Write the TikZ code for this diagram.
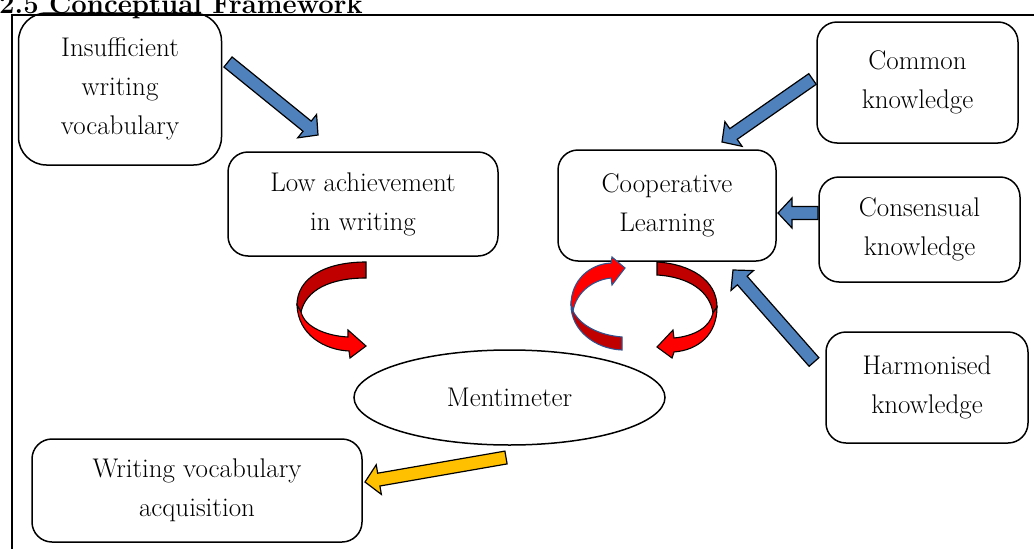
\documentclass[tikz,border=0pt]{standalone}
\usetikzlibrary{calc,shapes.geometric}

\definecolor{arrowblue}{RGB}{79,129,189}
\definecolor{arrowgold}{RGB}{255,192,0}
\definecolor{ribbonred}{RGB}{255,0,0}
\definecolor{ribbondark}{RGB}{192,0,0}
\definecolor{ribbonline}{RGB}{47,82,143}

% block arrow from tail coordinate #2 to tip coordinate #3
\newcommand{\blockarrow}[3][]{%
  \coordinate (ba-base) at ($(#3)!14pt!(#2)$);
  \draw[#1] ($(#2)!6.5pt!90:(#3)$) -- ($(ba-base)!6.5pt!90:(#3)$)
    -- ($(ba-base)!15pt!90:(#3)$) -- (#3)
    -- ($(ba-base)!15pt!-90:(#3)$) -- ($(ba-base)!6.5pt!-90:(#3)$)
    -- ($(#2)!6.5pt!-90:(#3)$) -- cycle;
}

\begin{document}
\begin{tikzpicture}
    [
    x=1pt,y=-1pt,
    box/.style={draw,rounded corners=20pt,line width=1.5pt,align=center,inner sep=0pt,
      font=\fontsize{27}{39}\selectfont},
    oval/.style={draw,ellipse,line width=1.5pt,inner sep=0pt,font=\fontsize{27}{39}\selectfont},
    bluearrow/.style={fill=arrowblue,draw=black,line width=1.2pt,line join=miter},
    goldarrow/.style={fill=arrowgold,draw=black,line width=1.2pt,line join=miter},
    ribbon/.style={draw=black,line width=1.1pt,line join=miter},
    ]
    \useasboundingbox (0,0) rectangle (1034,549);

    \node[anchor=base west,inner sep=0pt,font=\bfseries\fontsize{27.5}{30}\selectfont] (title) at (-1,13) {2.5 Conceptual Framework};
    \draw[line width=1.5pt] (12,15) rectangle (1050,570);

    % boxes
    \node[box,rounded corners=28pt,minimum width=203pt,minimum height=152pt] (insuff) at (120,89) {Insufficient\\writing\\vocabulary};
    \node[box,minimum width=270pt,minimum height=104pt] (low) at (363,204) {Low achievement\\in writing};
    \node[box,minimum width=218pt,minimum height=111pt] (coop) at (667,205.5) {Cooperative\\Learning};
    \node[box,minimum width=201pt,minimum height=121pt] (common) at (917.5,82.5) {Common\\knowledge};
    \node[box,minimum width=201pt,minimum height=105pt] (consens) at (919.5,229.5) {Consensual\\knowledge};
    \node[box,minimum width=202pt,minimum height=111pt] (harmon) at (927,387.5) {Harmonised\\knowledge};
    \node[oval,minimum width=311pt,minimum height=95pt] (menti) at (509.5,397.5) {Mentimeter};
    \node[box,minimum width=330pt,minimum height=103pt] (wva) at (197,490.5) {Writing vocabulary\\acquisition};

    % arrow ends
    \coordinate (insuff-out) at (228,62);
    \coordinate (low-in) at (318,135);
    \coordinate (common-out) at (812.5,79);
    \coordinate (coop-in1) at (722,142);
    \coordinate (consens-out) at (818,213);
    \coordinate (coop-in2) at (778,213);
    \coordinate (harmon-out) at (814,362);
    \coordinate (coop-in3) at (733,270);
    \coordinate (menti-out) at (506,457.5);
    \coordinate (wva-in) at (365,482);

    \blockarrow[bluearrow]{insuff-out}{low-in}
    \blockarrow[bluearrow]{common-out}{coop-in1}
    \blockarrow[bluearrow]{consens-out}{coop-in2}
    \blockarrow[bluearrow]{harmon-out}{coop-in3}
    \blockarrow[goldarrow]{menti-out}{wva-in}

    % curved arrow low -> menti
    \filldraw[ribbon,fill=ribbondark] (366,262) -- (366,278) .. controls (330,278) and (306,290) .. (301,312)
      -- (297,305) .. controls (297,278) and (325,262) .. (366,262) -- cycle;
    \filldraw[ribbon,fill=ribbonred] (297,305) .. controls (298,335) and (325,350) .. (349,351)
      -- (350,358) -- (366,346) -- (348,330) -- (348,337) .. controls (328,336) and (305,328) .. (301,312) -- cycle;

    % curved arrow coop -> menti
    \filldraw[ribbon,fill=ribbondark] (657,262) .. controls (690,264) and (717,280) .. (717,307)
      -- (713,313) .. controls (710,292) and (690,277) .. (657,275) -- cycle;
    \filldraw[ribbon,fill=ribbonred] (717,307) .. controls (717,335) and (698,350) .. (674,352)
      -- (672,358) -- (657,347) -- (673,330) -- (674,338) .. controls (695,336) and (710,327) .. (713,313) -- cycle;

    % curved arrow menti -> coop
    \filldraw[ribbon,draw=ribbonline,fill=ribbonred] (611,263) .. controls (590,264) and (571,280) .. (571,305)
      -- (573,311) .. controls (576,293) and (592,280) .. (611,278) -- (612,285) -- (625,268) -- (612,257) -- cycle;
    \filldraw[ribbon,draw=ribbonline,fill=ribbondark] (571,305) .. controls (571,330) and (595,349) .. (622,350)
      -- (622,337) .. controls (598,335) and (580,325) .. (573,311) -- cycle;
\end{tikzpicture}
\end{document}
